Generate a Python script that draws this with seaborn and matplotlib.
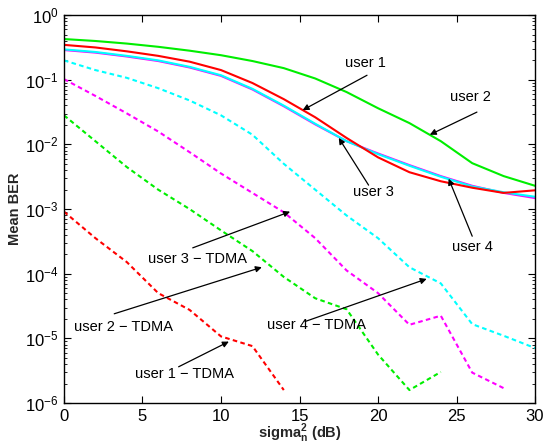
import numpy as np
import pandas as pd
import matplotlib
matplotlib.use("Agg")
import matplotlib.pyplot as plt
import seaborn as sns
from matplotlib.ticker import LogLocator, NullFormatter

sns.set_style("ticks")
plt.rcParams["font.family"] = ["Liberation Sans", "DejaVu Sans"]
plt.rcParams["mathtext.fontset"] = "custom"
plt.rcParams["mathtext.bf"] = "Liberation Sans:bold"
plt.rcParams["mathtext.rm"] = "Liberation Sans"

# noise power axis (dB)
snr_full = [0, 2, 4, 6, 8, 10, 12, 14, 16, 18, 20, 22, 24, 26, 28, 30]

# log10 of mean BER
user1 = [-0.46, -0.50, -0.56, -0.63, -0.72, -0.85, -1.05, -1.30, -1.58, -1.90, -2.20, -2.43, -2.57, -2.67, -2.75, -2.71]
user2 = [-0.37, -0.40, -0.44, -0.49, -0.55, -0.62, -0.71, -0.82, -0.98, -1.19, -1.44, -1.67, -1.95, -2.29, -2.49, -2.64]
user3 = [-0.53, -0.57, -0.63, -0.70, -0.80, -0.93, -1.14, -1.40, -1.68, -1.95, -2.15, -2.33, -2.50, -2.65, -2.74, -2.81]
user4 = [-0.54, -0.58, -0.64, -0.71, -0.81, -0.94, -1.15, -1.41, -1.69, -1.95, -2.14, -2.32, -2.49, -2.64, -2.75, -2.83]

tdma1_x = [0, 2, 4, 6, 8, 10, 12, 14]
tdma1 = [-3.04, -3.45, -3.82, -4.30, -4.56, -4.97, -5.12, -5.80]
tdma2_x = [0, 2, 4, 6, 8, 10, 12, 14, 16, 18, 20, 22, 24]
tdma2 = [-1.55, -1.95, -2.35, -2.70, -3.00, -3.33, -3.65, -4.05, -4.38, -4.55, -5.25, -5.80, -5.52]
tdma3_x = [0, 2, 4, 6, 8, 10, 12, 14, 16, 18, 20, 22, 24, 26, 28]
tdma3 = [-0.99, -1.25, -1.52, -1.80, -2.12, -2.45, -2.75, -3.05, -3.45, -3.95, -4.30, -4.79, -4.65, -5.53, -5.77]
tdma4_x = snr_full
tdma4 = [-0.70, -0.85, -0.97, -1.13, -1.32, -1.55, -1.85, -2.30, -2.70, -3.10, -3.45, -3.90, -4.15, -4.78, -4.96, -5.15]

fig, ax = plt.subplots(figsize=(5.55, 4.45), dpi=100)
fig.subplots_adjust(left=0.1153, right=0.964, bottom=0.0944, top=0.966)

dot = (0, (2.2, 1.6))
series = [
    (snr_full, user4, "#ff00ff", "-"),
    (snr_full, user3, "#00ffff", "-"),
    (snr_full, user2, "#00ee00", "-"),
    (snr_full, user1, "#ff0000", "-"),
    (tdma4_x, tdma4, "#00ffff", dot),
    (tdma3_x, tdma3, "#ff00ff", dot),
    (tdma2_x, tdma2, "#00ee00", dot),
    (tdma1_x, tdma1, "#ff0000", dot),
]
for xs, ys, col, ls in series:
    sns.lineplot(x=xs, y=10.0 ** np.array(ys), ax=ax, color=col,
                 linestyle=ls, linewidth=1.5)

ax.set_yscale("log")
ax.set_xlim(0, 30)
ax.set_ylim(1e-6, 1)
ax.set_xticks([0, 5, 10, 15, 20, 25, 30])
ax.yaxis.set_major_locator(LogLocator(base=10, numticks=10))
ax.yaxis.set_minor_locator(LogLocator(base=10, subs=np.arange(2, 10), numticks=10))
ax.yaxis.set_minor_formatter(NullFormatter())
ax.tick_params(which="both", direction="in", top=True, right=True,
               labelsize=12, colors="black")
ax.tick_params(which="major", length=5, width=0.8, pad=4)
ax.tick_params(which="minor", length=2.5, width=0.6)
for s in ax.spines.values():
    s.set_linewidth(1.0)
    s.set_color("black")
ax.grid(False)

ax.set_xlabel(r"sigma$_\mathbf{n}^\mathbf{2}$ (dB)", fontsize=10.5,
              fontweight="bold", labelpad=-2)
ax.set_ylabel("Mean BER", fontsize=10.5, fontweight="bold", labelpad=2)

# annotations: (text, text pos, arrow start, arrow end) in data coords
notes = [
    ("user 1", (19.2, -0.74), (19.3, -0.93), (15.2, -1.47)),
    ("user 2", (25.9, -1.27), (26.3, -1.50), (23.3, -1.85)),
    ("user 3", (19.7, -2.74), (19.4, -2.63), (17.5, -1.90)),
    ("user 4", (26.0, -3.59), (26.0, -3.42), (24.5, -2.53)),
    ("user 3 \u2212 TDMA", (8.5, -3.78), (8.2, -3.60), (14.4, -3.04)),
    ("user 2 \u2212 TDMA", (3.8, -4.82), (3.2, -4.62), (12.6, -3.90)),
    ("user 1 \u2212 TDMA", (7.7, -5.55), (7.3, -5.44), (10.5, -5.05)),
    ("user 4 \u2212 TDMA", (16.1, -4.79), (15.35, -4.74), (23.1, -4.08)),
]
for label, tpos, a0, a1 in notes:
    ax.text(tpos[0], 10 ** tpos[1], label, ha="center", va="center",
            fontsize=10.5, color="black")
    ax.annotate("", xy=(a1[0], 10 ** a1[1]), xytext=(a0[0], 10 ** a0[1]),
                arrowprops=dict(arrowstyle="-|>", color="black", lw=0.9,
                                mutation_scale=9, shrinkA=0, shrinkB=0))

plt.savefig("out.png", dpi=100)
plt.close()
